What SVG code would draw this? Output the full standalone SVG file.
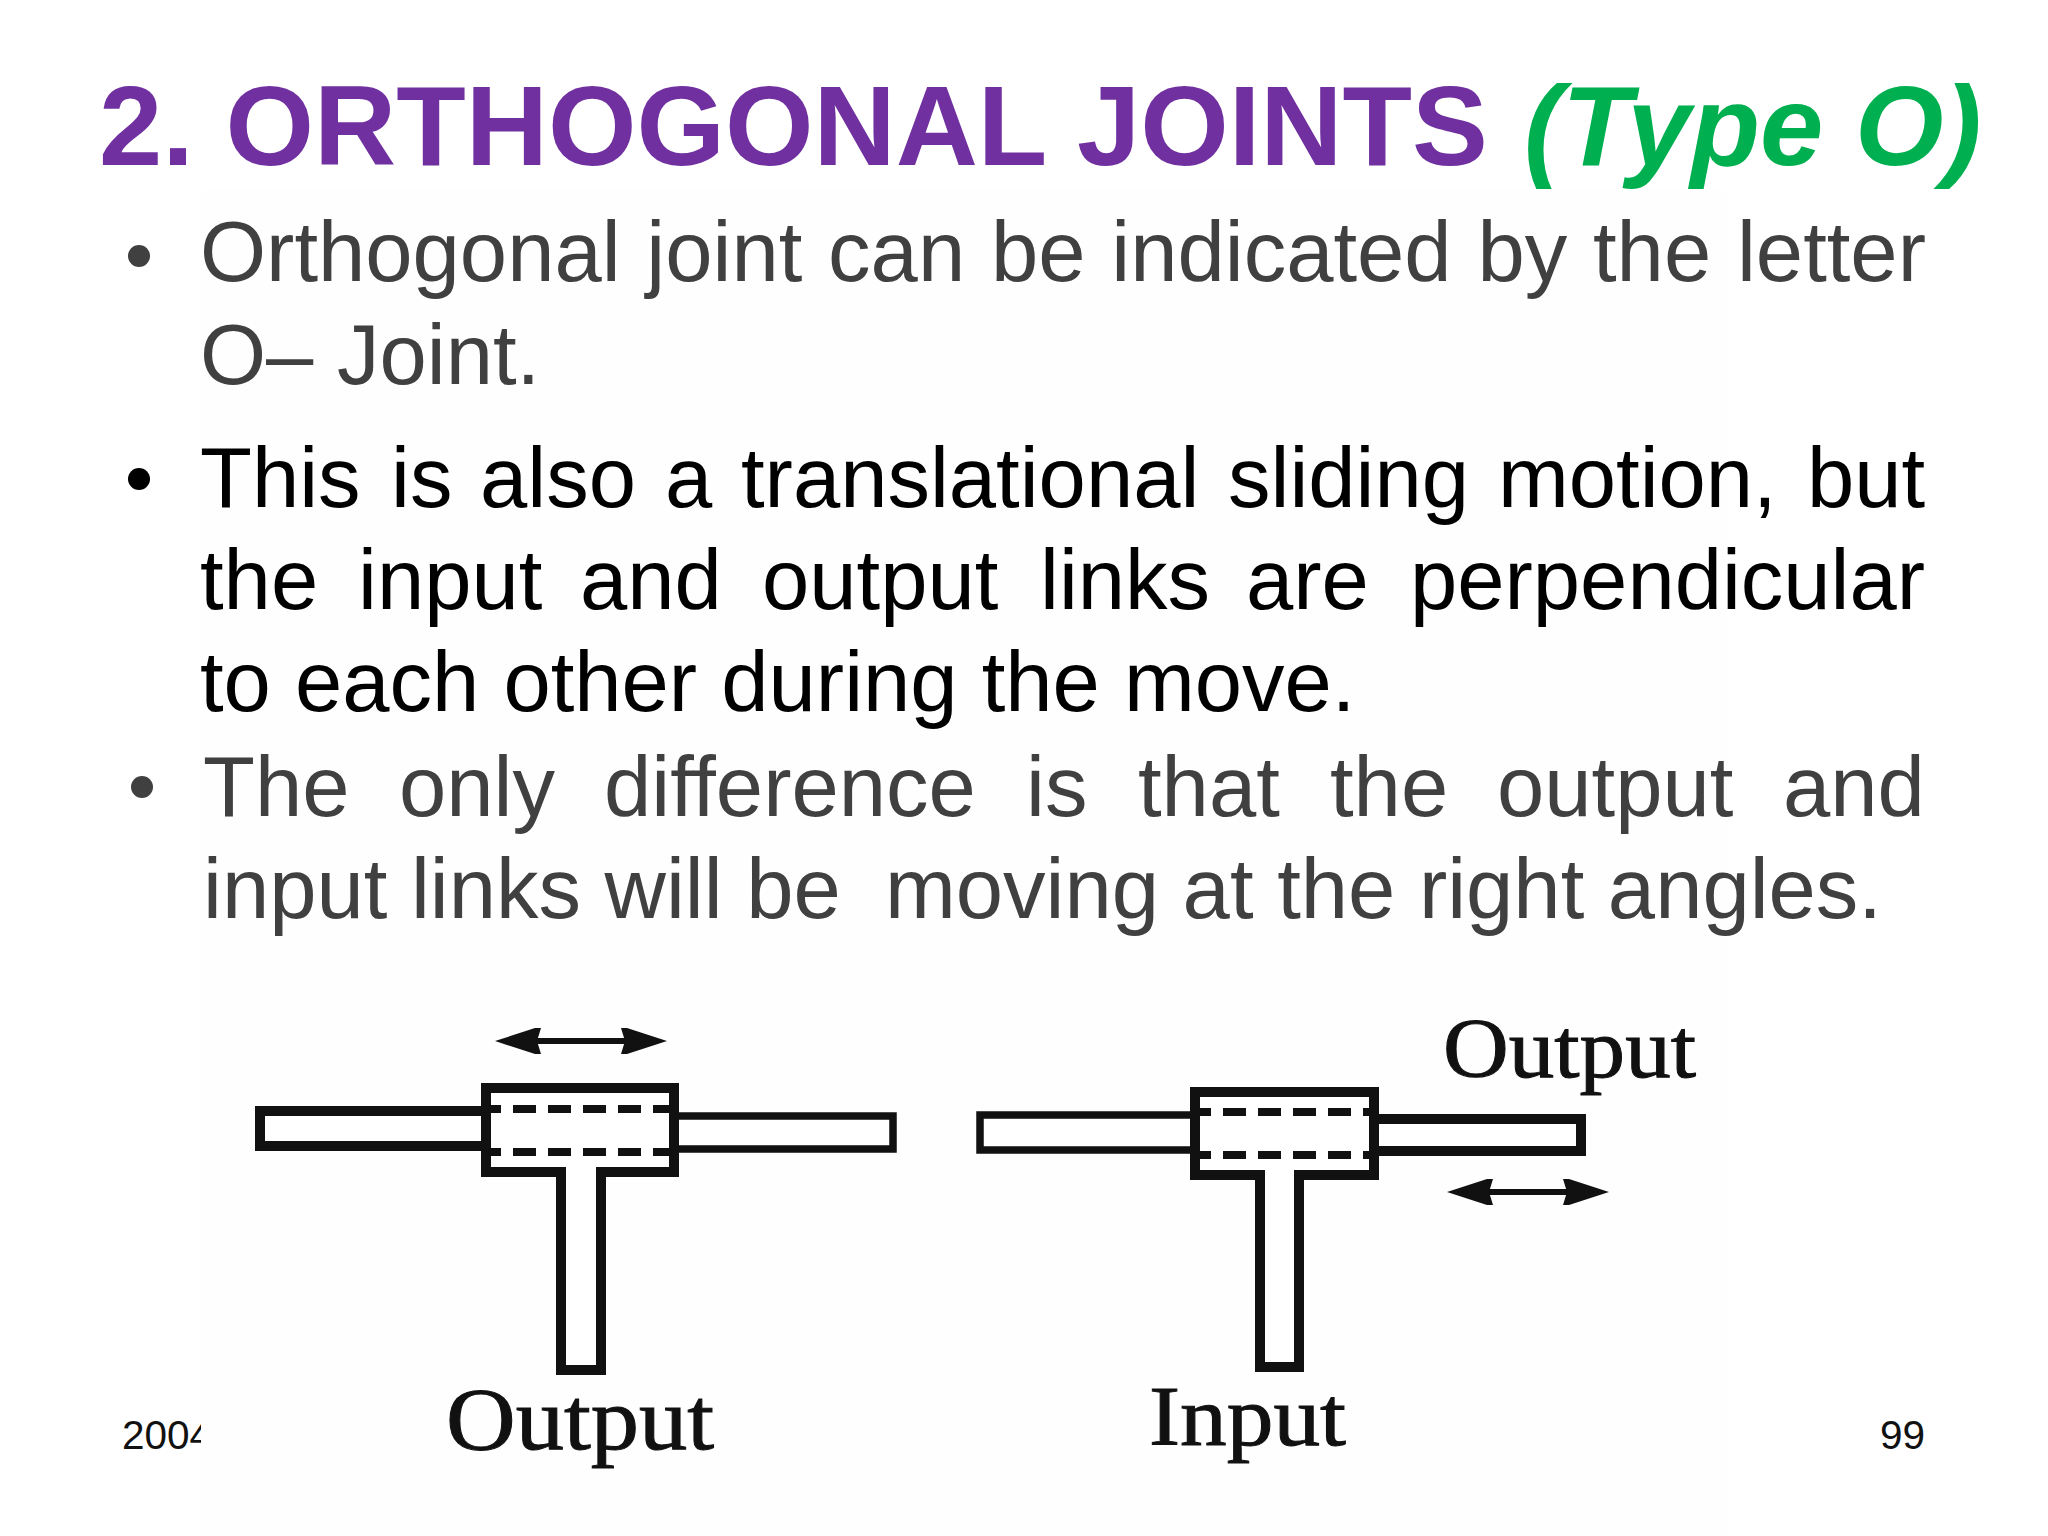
<svg xmlns="http://www.w3.org/2000/svg" width="2048" height="1536" viewBox="0 0 2048 1536">
<style>
text{font-family:"Liberation Sans",Arial,sans-serif}
.title{font-size:113.8px;font-weight:700}
.body{font-size:85px;fill:#404040}
.dark{fill:#000}
.foot{font-size:40.5px;fill:#111}
.serif{font-family:"Liberation Serif","Times New Roman",serif;fill:#111;stroke:#111;stroke-width:1}
.shape{fill:#fff;stroke:#111;stroke-width:10;stroke-linejoin:miter}
.thin{stroke-width:7.5}
.dash{fill:none;stroke:#111;stroke-width:8;stroke-dasharray:23 12;stroke-dashoffset:12}
.arrow{stroke:#111;stroke-width:6;fill:none;marker-start:url(#h);marker-end:url(#h)}
</style>
<defs>
<marker id="h" viewBox="0 0 46 28" refX="4" refY="14" markerUnits="userSpaceOnUse" markerWidth="46" markerHeight="28" orient="auto-start-reverse">
<path d="M0 1 L6 1 L46 14 L6 27 L0 27 L4 14 Z" fill="#111"/>
</marker>
</defs>
<rect width="2048" height="1536" fill="#fff"/>
<g id="footer">
<text class="foot" x="122" y="1449">2004</text>
<rect x="201" y="190" width="1526" height="1346" fill="#fefefe"/>
<text class="foot" x="1880" y="1449">99</text>
</g>
<g id="title">
<text class="title" x="99" y="165" fill="#7030A0">2. ORTHOGONAL JOINTS</text>
<text class="title" x="1524" y="165" fill="#00B050" font-style="italic">(Type O)</text>
</g>
<g id="bullets">
<circle cx="139" cy="256" r="11" fill="#404040"/>
<circle cx="139" cy="479" r="11" fill="#000"/>
<circle cx="142" cy="787" r="11" fill="#404040"/>
<text class="body" x="200" y="281" word-spacing="2.2">Orthogonal joint can be indicated by the letter</text>
<text class="body" x="200" y="384">O– Joint.</text>
<text class="body dark" y="507"><tspan x="200">This</tspan> <tspan x="391">is</tspan> <tspan x="480">also</tspan> <tspan x="665">a</tspan> <tspan x="741">translational</tspan> <tspan x="1228">sliding</tspan> <tspan x="1498">motion,</tspan> <tspan x="1807">but</tspan></text>
<text class="body dark" y="609"><tspan x="200">the</tspan> <tspan x="358">input</tspan> <tspan x="580">and</tspan> <tspan x="762">output</tspan> <tspan x="1040">links</tspan> <tspan x="1246">are</tspan> <tspan x="1410">perpendicular</tspan></text>
<text class="body dark" x="200" y="711" word-spacing="0.5">to each other during the move.</text>
<text class="body" y="816"><tspan x="203">The</tspan> <tspan x="399">only</tspan> <tspan x="604">difference</tspan> <tspan x="1026">is</tspan> <tspan x="1138">that</tspan> <tspan x="1330">the</tspan> <tspan x="1497">output</tspan> <tspan x="1783">and</tspan></text>
<text class="body" y="918"><tspan x="203">input links will be</tspan> <tspan x="885">moving at the right angles.</tspan></text>
</g>
<g id="joint-left">
<path class="shape" d="M486 1111H260V1146H486"/>
<path class="shape thin" d="M675 1116H893V1149H675"/>
<path class="shape" d="M561 1172H486V1088H674V1172H601V1370H561Z"/>
<path class="dash" d="M490 1109H672M490 1152H672"/>
<text class="serif" x="446" y="1449" font-size="88" textLength="268" lengthAdjust="spacingAndGlyphs">Output</text>
</g>
<g id="joint-right">
<path class="shape thin" d="M1194 1115H980V1150H1194"/>
<path class="shape" d="M1375 1119H1581V1151H1375"/>
<path class="shape" d="M1260 1175H1195V1092H1374V1175H1299V1367H1260Z"/>
<path class="dash" d="M1200 1112H1372M1200 1155H1372"/>
<text class="serif" x="1443" y="1077" font-size="84" textLength="253" lengthAdjust="spacingAndGlyphs">Output</text>
<text class="serif" x="1149" y="1445" font-size="84" textLength="197" lengthAdjust="spacingAndGlyphs">Input</text>
</g>
<g id="connectors">
<line class="arrow" x1="537" y1="1041" x2="625" y2="1041"/>
<line class="arrow" x1="1489" y1="1192" x2="1567" y2="1192"/>
</g>
</svg>
